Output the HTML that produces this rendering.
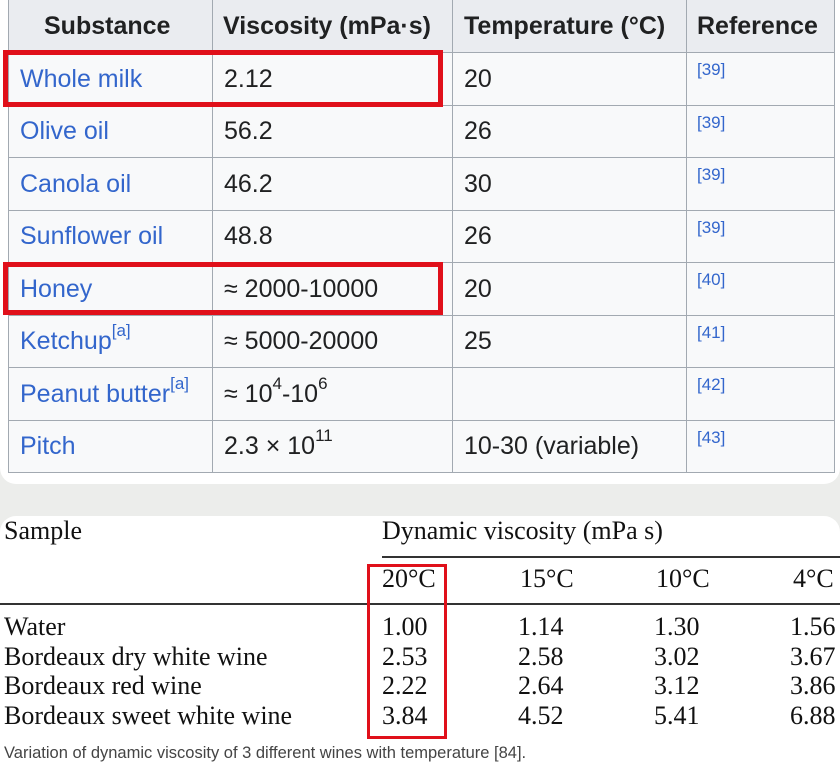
<!DOCTYPE html>
<html><head><style>
body{margin:0;width:840px;height:769px;background:#ecedeb;position:relative;overflow:hidden;font-family:"Liberation Sans",sans-serif;}
.top{position:absolute;left:0;top:0;width:840px;height:484px;background:#fff;border-radius:0 0 16px 16px;overflow:hidden;}
.bot{position:absolute;left:0;top:516px;width:840px;height:253px;background:#fff;border-radius:16px 16px 0 0;}
.hl{position:absolute;left:8px;width:827px;height:1px;background:#a2a9b1;}
.vl{position:absolute;top:0;width:1px;height:473px;background:#a2a9b1;}
.c{position:absolute;white-space:nowrap;font-size:25px;color:#202122;height:52px;line-height:52px;}
.h{font-weight:bold;}
a{color:#3366cc;}
.r{position:absolute;white-space:nowrap;font-size:17px;color:#3366cc;}
sup{font-size:17px;line-height:0;position:relative;top:-4px;}
.red{position:absolute;border:5px solid #e0101a;}
.s{font-family:"Liberation Serif",serif;font-size:26px;color:#111;position:absolute;white-space:nowrap;}
</style></head><body>
<div class="top">
<div style="position:absolute;left:8px;top:0;width:827px;height:52px;background:#eaecf0"></div>
<div style="position:absolute;left:8px;top:52px;width:827px;height:420px;background:#f8f9fa"></div>
<div class="hl" style="top:52px"></div><div class="hl" style="top:105px"></div><div class="hl" style="top:157px"></div><div class="hl" style="top:210px"></div><div class="hl" style="top:262px"></div><div class="hl" style="top:315px"></div><div class="hl" style="top:367px"></div><div class="hl" style="top:420px"></div><div class="hl" style="top:472px"></div>
<div class="vl" style="left:8px"></div><div class="vl" style="left:212px"></div><div class="vl" style="left:452px"></div><div class="vl" style="left:686px"></div><div class="vl" style="left:834px"></div>

<div class="c h" style="left:44px;top:0">Substance</div>
<div class="c h" style="left:223px;top:0">Viscosity (mPa·s)</div>
<div class="c h" style="left:464px;top:0">Temperature (°C)</div>
<div class="c h" style="left:697px;top:0">Reference</div>

<div class="c" style="left:20px;top:53px"><a>Whole milk</a></div><div class="c" style="left:224px;top:53px">2.12</div><div class="c" style="left:464px;top:53px">20</div><div class="r" style="left:697px;top:60px">[39]</div>
<div class="c" style="left:20px;top:105px"><a>Olive oil</a></div><div class="c" style="left:224px;top:105px">56.2</div><div class="c" style="left:464px;top:105px">26</div><div class="r" style="left:697px;top:113px">[39]</div>
<div class="c" style="left:20px;top:158px"><a>Canola oil</a></div><div class="c" style="left:224px;top:158px">46.2</div><div class="c" style="left:464px;top:158px">30</div><div class="r" style="left:697px;top:165px">[39]</div>
<div class="c" style="left:20px;top:210px"><a>Sunflower oil</a></div><div class="c" style="left:224px;top:210px">48.8</div><div class="c" style="left:464px;top:210px">26</div><div class="r" style="left:697px;top:218px">[39]</div>
<div class="c" style="left:20px;top:263px"><a>Honey</a></div><div class="c" style="left:224px;top:263px">≈ 2000-10000</div><div class="c" style="left:464px;top:263px">20</div><div class="r" style="left:697px;top:270px">[40]</div>
<div class="c" style="left:20px;top:315px"><a>Ketchup<sup>[a]</sup></a></div><div class="c" style="left:224px;top:315px">≈ 5000-20000</div><div class="c" style="left:464px;top:315px">25</div><div class="r" style="left:697px;top:323px">[41]</div>
<div class="c" style="left:20px;top:368px"><a>Peanut butter<sup>[a]</sup></a></div><div class="c" style="left:224px;top:368px">≈ 10<sup>4</sup>-10<sup>6</sup></div><div class="r" style="left:697px;top:375px">[42]</div>
<div class="c" style="left:20px;top:420px"><a>Pitch</a></div><div class="c" style="left:224px;top:420px">2.3 × 10<sup>11</sup></div><div class="c" style="left:464px;top:420px">10-30 (variable)</div><div class="r" style="left:697px;top:428px">[43]</div>

<div class="red" style="left:3px;top:50px;width:430px;height:47px"></div>
<div class="red" style="left:3px;top:262px;width:430px;height:43px"></div>
</div>
<div class="bot">
<div class="s" style="left:4px;top:0px">Sample</div>
<div class="s" style="left:382px;top:0px">Dynamic viscosity (mPa s)</div>
<div style="position:absolute;left:382px;top:40px;width:458px;height:2px;background:#333"></div>
<div class="s" style="left:382px;top:48px">20°C</div>
<div class="s" style="left:520px;top:48px">15°C</div>
<div class="s" style="left:656px;top:48px">10°C</div>
<div class="s" style="left:793px;top:48px">4°C</div>
<div style="position:absolute;left:0;top:87px;width:840px;height:2px;background:#333"></div>
<div class="s" style="left:4px;top:96px;line-height:29.5px">Water<br>Bordeaux dry white wine<br>Bordeaux red wine<br>Bordeaux sweet white wine</div>
<div class="s" style="left:382px;top:96px;line-height:29.5px">1.00<br>2.53<br>2.22<br>3.84</div>
<div class="s" style="left:518px;top:96px;line-height:29.5px">1.14<br>2.58<br>2.64<br>4.52</div>
<div class="s" style="left:654px;top:96px;line-height:29.5px">1.30<br>3.02<br>3.12<br>5.41</div>
<div class="s" style="left:790px;top:96px;line-height:29.5px">1.56<br>3.67<br>3.86<br>6.88</div>
<div class="red" style="left:367px;top:48px;width:74px;height:169px;border-width:3px"></div>
<div style="position:absolute;left:4px;top:228px;font-size:16.5px;color:#444;white-space:nowrap">Variation of dynamic viscosity of 3 different wines with temperature [84].</div>
</div>
</body></html>
